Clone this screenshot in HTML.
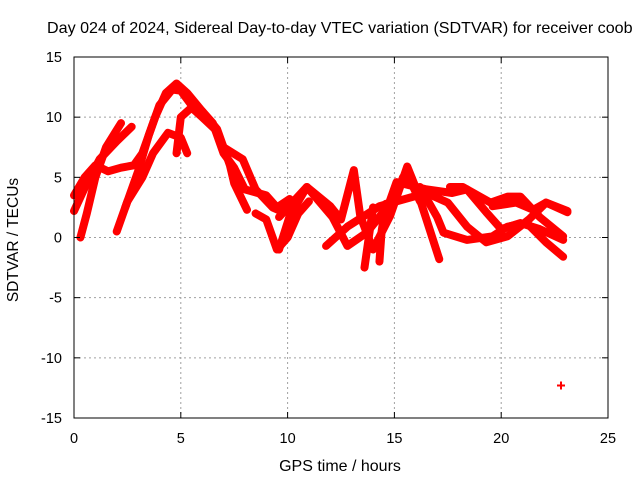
<!DOCTYPE html>
<html><head><meta charset="utf-8"><style>
body{margin:0;background:#fff}
svg{display:block;font-family:"Liberation Sans",sans-serif}
</style></head><body>
<svg width="640" height="480" id="c">
<text x="47" y="33" text-anchor="start" font-size="16.1">Day 024 of 2024, Sidereal Day-to-day VTEC variation (SDTVAR) for receiver coob</text>
<text transform="translate(18,240) rotate(-90)" text-anchor="middle" font-size="15.5">SDTVAR / TECUs</text>
<text x="340" y="471" text-anchor="middle" font-size="16">GPS time / hours</text>
<g id="grid"></g><g id="series"></g><g id="axes"></g>
</svg>
<script>
const xTicks=[0,5,10,15,20,25];
const yTicks=[15,10,5,0,-5,-10,-15];
const tracks=[
[[0,3.5],[0.5,5],[1,6],[1.6,5.5],[2.2,5.8],[2.8,6],[3.2,7],[3.8,10],[4.3,12],[4.8,12.8],[5.3,12],[6,10.5],[6.7,9],[7.3,6],[7.5,4.5],[8.1,2.3]],
[[0.3,0],[0.6,2],[1,5],[1.5,7.5],[2.2,9.5]],
[[0,2.2],[0.6,4.5],[1.2,6.5],[2,8],[2.7,9.2]],
[[2,0.5],[2.5,3],[3.2,5],[3.7,7],[4.4,8.7],[5,8.3],[5.3,7]],
[[2.4,2.5],[3,5.5],[3.5,8.5],[4,11],[4.6,12.3],[5,12.2],[5.5,11],[6,10.5],[6.5,9.5],[7,7],[7.5,5.8],[8,4],[9,3.5],[9.5,2.5],[10.1,3.2]],
[[4.8,7],[5,10],[5.5,10.8],[6,10],[6.6,9],[7,7.5],[7.9,6.5],[8.5,4],[9.3,2.5],[9.8,2.1]],
[[8.5,2],[9,1.5],[9.5,-1],[10,0],[10.5,2],[11,3]],
[[9.6,-1],[10.1,1.8],[10.9,4.2],[12,2.6],[12.5,1.5],[13.1,5.6],[13.4,1.8],[14,-1],[14.8,1.8],[15.6,5.9],[16.1,3.7],[17.1,-1.8]],
[[9.6,1.7],[10.9,4.2],[12.1,1.7],[12.8,-0.7],[13.7,0.4],[14.7,2.6],[15.1,4.6],[16.5,4],[17.7,3.7],[18.4,4],[19.3,2.1],[20,0.7],[20.9,1.2],[21.8,0.7],[22.9,-0.2]],
[[11.8,-0.7],[12.8,0.9],[14.3,2.6],[16.5,3.7],[17.5,2.9],[18.4,0.9],[19.3,-0.4],[20.3,0.1],[21.3,1.5],[22.1,2.9],[23.1,2.1]],
[[16.2,4.2],[17,1.7],[17.3,0.4],[18.4,-0.2],[19.6,0.1],[20.3,0.9],[21.2,1.2],[22.1,-0.4],[22.9,-1.6]],
[[17.6,4.2],[18.2,4.2],[19.5,2.9],[20.3,3.4],[20.9,3.4],[21.8,1.7],[22.9,0.1]],
[[19.6,2.6],[20.7,2.9],[21.5,2.3],[22.1,2.9],[23.1,2.2]],
[[13.6,-2.5],[13.8,0],[14,2.5]],
[[14.3,-2],[14.4,0.5],[14.6,2.8]],
[[15,3],[15.4,5],[15.8,4.5],[16.2,3]]
];
const outliers=[[22.8,-12.3]];
const X0=74,X1=608,Y0=418,Y1=57;
const sx=v=>X0+(v-0)/(25-0)*(X1-X0);
const sy=v=>Y0-(v+15)/30*(Y0-Y1);
const NS="http://www.w3.org/2000/svg";
const g=document.getElementById('grid'),s=document.getElementById('series'),a=document.getElementById('axes');
function mk(p,t,at){const e=document.createElementNS(NS,t);for(const k in at)e.setAttribute(k,at[k]);p.appendChild(e);return e;}
xTicks.forEach(t=>{const x=sx(t);
 if(t>0&&t<25){const l=mk(g,'line',{x1:x,x2:x,y1:Y1,y2:Y0,stroke:'#a0a0a0','stroke-dasharray':'2,3'});
 
 }
 mk(a,'line',{x1:x,x2:x,y1:Y0,y2:Y0-6,stroke:'#000'});mk(a,'line',{x1:x,x2:x,y1:Y1,y2:Y1+6,stroke:'#000'});
 const tx=mk(a,'text',{x:x,y:Y0+25,'text-anchor':'middle','font-size':'14.5'});tx.textContent=t;
 
 });
yTicks.forEach(t=>{const y=sy(t);
 if(t>-15&&t<15){const l=mk(g,'line',{x1:X0,x2:X1,y1:y,y2:y,stroke:'#a0a0a0','stroke-dasharray':'2,3'});
 
 }
 mk(a,'line',{x1:X0,x2:X0+6,y1:y,y2:y,stroke:'#000'});mk(a,'line',{x1:X1,x2:X1-6,y1:y,y2:y,stroke:'#000'});
 const tx=mk(a,'text',{x:X0-12,y:y+5,'text-anchor':'end','font-size':'14.5'});tx.textContent=t;
 
 });
const fr=mk(a,'rect',{x:X0,y:Y1,width:X1-X0,height:Y0-Y1,fill:'none',stroke:'#000'});


tracks.forEach(tr=>{const p=mk(s,'polyline',{points:tr.map(d=>sx(d[0])+','+sy(d[1])).join(' '),fill:'none',stroke:'#f00','stroke-width':'8','stroke-linejoin':'round','stroke-linecap':'round'});
 
 });
outliers.forEach(d=>{const x=sx(d[0]),y=sy(d[1]);
 const p=mk(s,'path',{d:`M${x-4},${y}H${x+4}M${x},${y-4}V${y+4}`,stroke:'#f00','stroke-width':'2'});
 
 });
</script>
</body></html>
